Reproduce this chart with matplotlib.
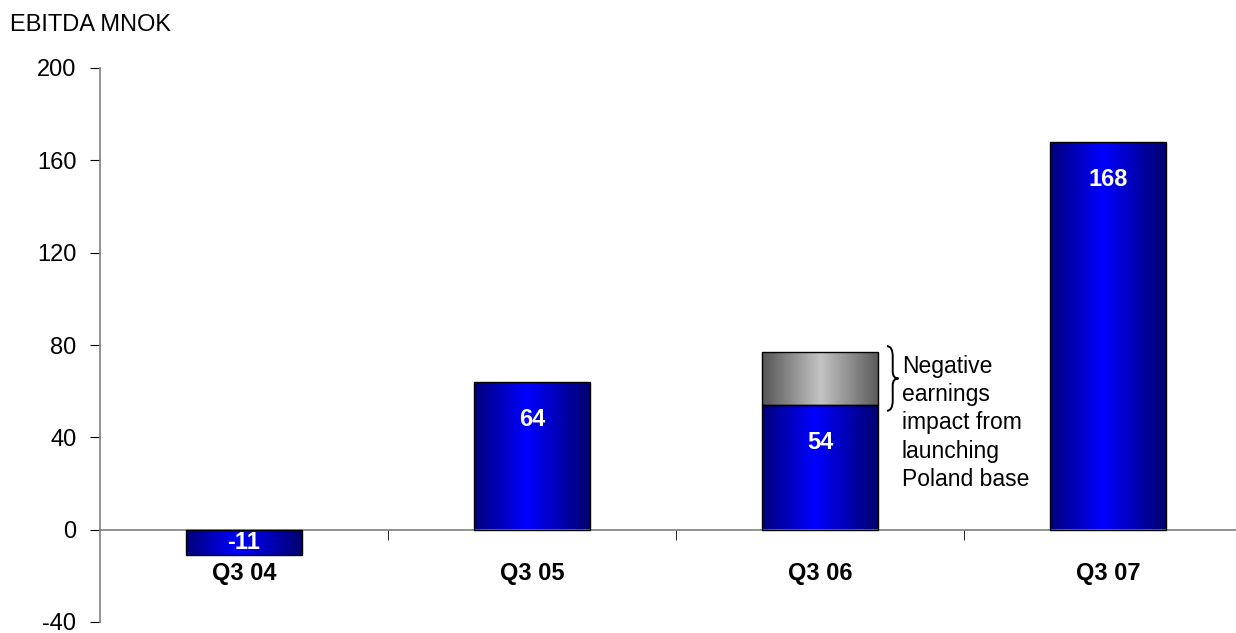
import numpy as np
import matplotlib.pyplot as plt
from matplotlib.colors import LinearSegmentedColormap
from matplotlib.path import Path
from matplotlib.patches import PathPatch

plt.rcParams['font.family'] = ['Liberation Sans', 'DejaVu Sans']
plt.rcParams['axes.unicode_minus'] = False

# --- Data ---
quarters = ['Q3 04', 'Q3 05', 'Q3 06', 'Q3 07']
ebitda = [-11, 64, 54, 168]
launch_impact = [0, 0, 23, 0]   # grey part on top of Q3 06
note = 'Negative\nearnings\nimpact from\nlaunching\nPoland base'

yticks = [-40, 0, 40, 80, 120, 160, 200]

blue_cmap = LinearSegmentedColormap.from_list(
    'bluebar', [(0, '#00007a'), (0.45, '#0000ff'), (1, '#00006e')])
grey_cmap = LinearSegmentedColormap.from_list(
    'greybar', [(0, '#555555'), (0.5, '#c4c4c4'), (1, '#5a5a5a')])

fig = plt.figure(figsize=(12.36, 6.33), dpi=100)
ax = fig.add_axes([100 / 1236, 11 / 633, 1136 / 1236, 554 / 633])

# spines first: moving a spine resets the tick settings
ax.spines['top'].set_visible(False)
ax.spines['right'].set_visible(False)
ax.spines['bottom'].set_position(('data', 0))
for s in ('left', 'bottom'):
    ax.spines[s].set_color('#808080')
    ax.spines[s].set_linewidth(1.2)

x = np.arange(len(quarters))
width = 0.405
grad = np.linspace(0, 1, 256).reshape(1, -1)


def gradient_bars(xs, bottoms, heights, cmap):
    bars = ax.bar(xs, heights, width, bottom=bottoms, facecolor='none',
                  edgecolor='black', linewidth=1.0, zorder=3)
    for b in bars:
        if b.get_height() == 0:
            b.set_visible(False)
            continue
        x0, y0 = b.get_x(), b.get_y()
        x1, y1 = x0 + b.get_width(), y0 + b.get_height()
        im = ax.imshow(grad, cmap=cmap, aspect='auto',
                       extent=[x0, x1, min(y0, y1), max(y0, y1)], zorder=2)
        im.set_clip_path(b)
    return bars


gradient_bars(x, 0, ebitda, blue_cmap)
gradient_bars(x, ebitda, launch_impact, grey_cmap)

# value labels
for xi, v in zip(x, ebitda):
    if v < 0:
        ax.text(xi, v / 2, str(v), ha='center', va='center', color='white',
                fontsize=17, fontweight='bold', zorder=4)
    else:
        ax.annotate(str(v), (xi, v), xytext=(0, -27), textcoords='offset points',
                    ha='center', va='center', color='white',
                    fontsize=17, fontweight='bold', zorder=4)

# brace next to the grey segment
i = 2
top = ebitda[i] + launch_impact[i]
bot = ebitda[i]
mid = (top + bot) / 2
bx = x[i] + width / 2 + 0.03
w = 0.04
verts = [(bx, top + 2.5), (bx + w / 2, top + 2.5), (bx + w / 2, top - 2),
         (bx + w / 2, mid + 3), (bx + w / 2, mid), (bx + w, mid),
         (bx + w / 2, mid), (bx + w / 2, mid - 3), (bx + w / 2, bot + 2),
         (bx + w / 2, bot - 2.5), (bx, bot - 2.5)]
codes = [Path.MOVETO, Path.CURVE3, Path.CURVE3, Path.LINETO, Path.CURVE3, Path.CURVE3,
         Path.CURVE3, Path.CURVE3, Path.LINETO, Path.CURVE3, Path.CURVE3]
ax.add_patch(PathPatch(Path(verts, codes), facecolor='none', edgecolor='black',
                       linewidth=1.4, clip_on=False, zorder=4))
ax.text(bx + w + 0.012, top - 1.5, note, ha='left', va='top', fontsize=16.5,
        linespacing=1.28, zorder=4)

# axes styling
ax.set_xlim(-0.5, 3.5 - 16 / 288)
ax.set_ylim(-40, 200)
ax.set_yticks(yticks)
ax.tick_params(axis='y', labelsize=17, length=7, color='black', pad=10)

ax.set_xticks(x[:-1] + 0.5, minor=True)
ax.tick_params(axis='x', which='minor', length=7, color='black', direction='out')
ax.tick_params(axis='x', which='major', length=0, pad=23)
ax.set_xticks(x, quarters, fontsize=17, fontweight='bold')

fig.text(10 / 1236, 1 - 25 / 633, 'EBITDA MNOK', fontsize=17, va='center', ha='left')

fig.savefig('out.png', dpi=100)
